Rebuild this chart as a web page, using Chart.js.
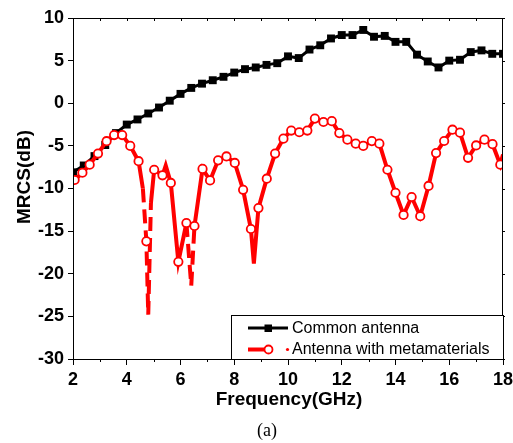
<!DOCTYPE html>
<html><head><meta charset="utf-8">
<style>html,body{margin:0;padding:0;background:#fff;}#wrap{width:513px;height:443px;}</style>
<script src="https://cdn.jsdelivr.net/npm/chart.js@4.4.0/dist/chart.umd.min.js"></script>
</head><body><div id="wrap"><canvas id="c" width="513" height="443"></canvas></div>
<script>
// ---------- data ----------
const commonFreq = [2.0,2.4,2.8,3.2,3.6,4.0,4.4,4.8,5.2,5.6,6.0,6.4,6.8,7.2,7.6,8.0,8.4,8.8,9.2,9.6,10.0,10.4,10.8,11.2,11.6,12.0,12.4,12.8,13.2,13.6,14.0,14.4,14.8,15.2,15.6,16.0,16.4,16.8,17.2,17.6,18.0];
const commonMRCS = [-8.1,-7.3,-6.2,-4.9,-3.5,-2.5,-1.9,-1.2,-0.5,0.3,1.1,1.8,2.3,2.7,3.1,3.6,4.0,4.2,4.5,4.7,5.5,5.3,6.3,6.8,7.6,8.0,8.0,8.6,7.8,7.9,7.2,7.2,5.7,4.9,4.2,5.0,5.1,6.0,6.2,5.8,5.8];

const metaFreq = [2.06,2.35,2.62,2.93,3.25,3.53,3.83,4.13,4.44,4.60,4.73,4.80,4.90,5.02,5.33,5.45,5.64,5.92,6.22,6.40,6.52,6.82,7.10,7.40,7.71,8.02,8.33,8.62,8.73,8.90,9.21,9.52,9.83,10.12,10.42,10.72,11.00,11.32,11.63,11.91,12.21,12.52,12.80,13.12,13.40,13.70,14.00,14.30,14.60,14.92,15.23,15.51,15.81,16.12,16.40,16.70,17.00,17.31,17.61,17.90,18.00];
const metaMRCS = [-9.0,-8.15,-7.2,-5.9,-4.45,-3.73,-3.73,-5.0,-6.8,-10.0,-16.2,-24.8,-11.7,-7.8,-8.45,-7.3,-9.35,-18.6,-14.05,-21.4,-14.4,-7.7,-9.05,-6.7,-6.24,-7.0,-10.15,-14.75,-18.8,-12.3,-8.85,-5.9,-4.15,-3.2,-3.4,-3.2,-1.8,-2.2,-2.1,-3.5,-4.27,-4.74,-5.0,-4.44,-4.74,-7.8,-10.5,-13.1,-11.0,-13.25,-9.7,-5.85,-4.43,-3.1,-3.45,-6.4,-4.95,-4.27,-4.8,-7.2,-6.0];
// 1 = sample shown with a circle marker, 0 = curve-only sample
const metaMarked = [1,1,1,1,1,1,1,1,1,0,1,0,0,1,1,0,1,1,1,0,1,1,1,1,1,1,1,1,0,1,1,1,1,1,1,1,1,1,1,1,1,1,1,1,1,1,1,1,1,1,1,1,1,1,1,1,1,1,1,1,0];

const xTickValues = [2,4,6,8,10,12,14,16,18];
const yTickValues = [10,5,0,-5,-10,-15,-20,-25,-30];
const seriesNames = ['Common antenna','Antenna with metamaterials'];
const xTitle = 'Frequency(GHz)';
const yTitle = 'MRCS(dB)';
const caption = '(a)';

// ---------- chart ----------
const RED = '#ff0000';
const dashedSpans = [[4.58,4.92],[6.2,6.54]];
function isDashed(x0,x1){return dashedSpans.some(s=>x0>=s[0]&&x1<=s[1]);}
const tickFont = {family:'"Liberation Sans", Arial, sans-serif', size:18, weight:'bold'};

const decor = {
  id:'decor',
  afterDraw(chart){
    const c = chart.ctx, a = chart.chartArea, xs = chart.scales.x, ys = chart.scales.y;
    c.save();
    c.strokeStyle = '#000'; c.lineWidth = 1;
    c.strokeRect(Math.round(a.left)+0.5, Math.round(a.top)+0.5, Math.round(a.right-a.left)-1, Math.round(a.bottom-a.top));
    c.beginPath();
    for (let v=3; v<=17; v+=2){ const px=Math.round(xs.getPixelForValue(v))+0.5; c.moveTo(px,a.bottom); c.lineTo(px,a.bottom+3); }
    for (let v=3; v<=17; v++){ const px=Math.round(xs.getPixelForValue(v))+0.5; c.moveTo(px,a.top); c.lineTo(px,a.top+3); }
    yTickValues.forEach(v=>{ const py=Math.round(ys.getPixelForValue(v))+0.5; c.moveTo(a.right-1,py); c.lineTo(a.right+2,py); });
    c.stroke();
    // titles
    c.fillStyle = '#000';
    c.font = 'bold 19px "Liberation Sans", Arial, sans-serif';
    c.textAlign = 'center'; c.textBaseline = 'middle';
    c.fillText(xTitle, (a.left+a.right)/2+1, 400);
    c.save(); c.translate(25, 177); c.rotate(-Math.PI/2); c.fillText(yTitle, 0, 0); c.restore();
    c.font = '18px "Liberation Serif", "Times New Roman", serif';
    c.fillText(caption, 267, 431);
    // legend
    const lx = 231, ly = 315, lw = a.right - lx, lh = a.bottom - ly;
    c.fillStyle = '#fff'; c.fillRect(lx, ly, lw, lh);
    c.strokeStyle = '#000'; c.lineWidth = 1; c.strokeRect(lx+0.5, ly+0.5, lw, lh);
    c.lineWidth = 3; c.strokeStyle = '#000';
    c.beginPath(); c.moveTo(248,328); c.lineTo(288,328); c.stroke();
    c.fillStyle = '#000'; c.fillRect(264.5,324.5,7.5,7.5);
    c.lineWidth = 4; c.strokeStyle = RED;
    c.beginPath(); c.moveTo(248,349.5); c.lineTo(265,349.5); c.stroke();
    c.lineWidth = 1.8; c.fillStyle = '#fff';
    c.beginPath(); c.arc(268.5,349.5,4,0,Math.PI*2); c.fill(); c.stroke();
    c.fillStyle = RED; c.beginPath(); c.arc(287.5,349.5,1.6,0,Math.PI*2); c.fill();
    c.fillStyle = '#000'; c.font = '16px "Liberation Sans", Arial, sans-serif';
    c.textAlign = 'left';
    c.fillText(seriesNames[0], 292, 328.5);
    c.fillText(seriesNames[1], 292, 349.5);
    c.restore();
  }
};

new Chart(document.getElementById('c'), {
  type:'line',
  data:{datasets:[
    {label:seriesNames[1], data:metaFreq.map((f,i)=>({x:f,y:metaMRCS[i]})),
     borderColor:RED, borderWidth:4, tension:0,
     pointRadius:metaMarked.map(m=>m?4.2:0), pointStyle:'circle',
     pointBackgroundColor:'#fff', pointBorderColor:RED, pointBorderWidth:1.8,
     segment:{borderDash:ctx=>isDashed(ctx.p0.parsed.x, ctx.p1.parsed.x)?[14,7]:undefined},
     order:1},
    {label:seriesNames[0], data:commonFreq.map((f,i)=>({x:f,y:commonMRCS[i]})),
     borderColor:'#000', borderWidth:3, tension:0,
     pointStyle:'rect', pointRadius:5.6, pointBackgroundColor:'#000', pointBorderColor:'#000', pointBorderWidth:0,
     order:2}
  ]},
  options:{
    responsive:false, animation:false, events:[],
    layout:{padding:{top:18, right:10, left:0, bottom:0}},
    plugins:{legend:{display:false}, tooltip:{enabled:false}},
    scales:{
      x:{type:'linear', min:2, max:18,
         afterBuildTicks:s=>{s.ticks = xTickValues.map(v=>({value:v}));},
         ticks:{font:tickFont, color:'#000', padding:4, maxRotation:0, autoSkip:false},
         grid:{drawOnChartArea:false, tickLength:6, color:'#000'},
         border:{color:'#000', width:1},
         afterFit:s=>{s.height = 84; s.paddingLeft = 0; s.paddingRight = 0;}},
      y:{type:'linear', min:-30, max:10,
         afterBuildTicks:s=>{s.ticks = yTickValues.map(v=>({value:v}));},
         ticks:{font:tickFont, color:'#000', padding:4, autoSkip:false},
         grid:{drawOnChartArea:false, tickLength:5, color:'#000'},
         border:{color:'#000', width:1},
         afterFit:s=>{s.width = 73; s.paddingTop = 0; s.paddingBottom = 0;}}
    }
  },
  plugins:[decor]
});
</script></body></html>
